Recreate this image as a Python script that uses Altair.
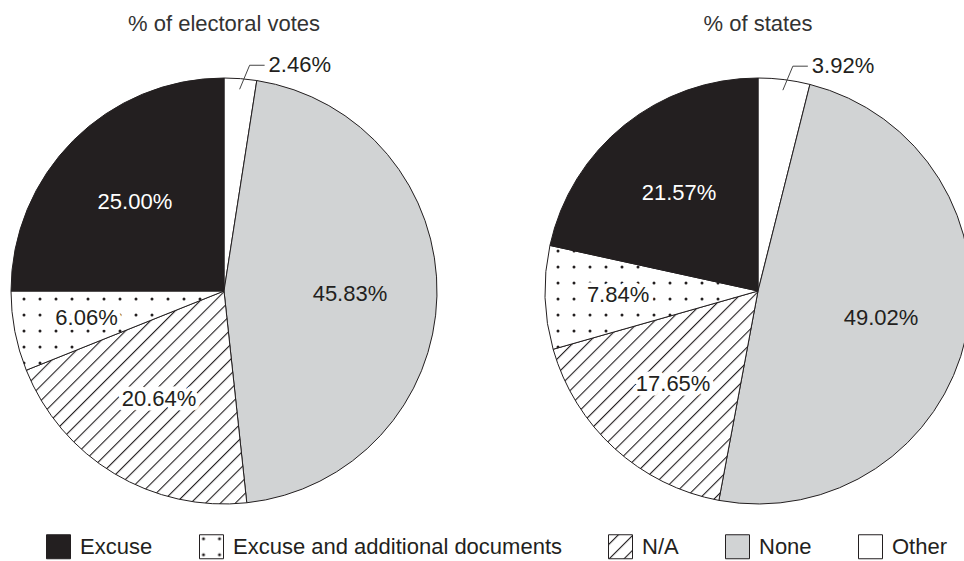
import jinja2
import pandas as pd
import altair as alt

# Share of each voter-ID requirement, clockwise from 12 o'clock
panels = ["% of electoral votes", "% of states"]
categories = ["Other", "None", "N/A", "Excuse and additional documents", "Excuse"]
electoral_votes = [2.46, 45.83, 20.64, 6.06, 25.00]
states = [3.92, 49.02, 17.65, 7.84, 21.57]

legend_order = ["Excuse", "Excuse and additional documents", "N/A", "None", "Other"]
fills = ["#231f20", "url(#dots)", "url(#hatch)", "#d1d3d4", "#ffffff"]

rows = []
for p, (panel, values) in enumerate(zip(panels, [electoral_votes, states])):
    for i, (cat, v) in enumerate(zip(categories, values)):
        rows.append({"panel": panel, "pi": p, "category": cat, "ord": i, "value": v})
df = pd.DataFrame(rows)

R = 213          # pie radius
CY = 291         # vertical centre of both pies
INK = "#231f20"
FONT = "Liberation Sans"

base = (
    alt.Chart(df)
    .transform_window(cum="sum(value)", sort=[alt.SortField("ord")],
                      groupby=["panel"], frame=[None, 0])
    .transform_joinaggregate(total="sum(value)", groupby=["panel"])
    .transform_calculate(
        a0="(datum.cum - datum.value) / datum.total * 2 * PI",
        a1="datum.cum / datum.total * 2 * PI",
        mid="(datum.a0 + datum.a1) / 2",
        cx="224 + 534 * datum.pi",
        label="format(datum.value, '.2f') + '%'",
        lr="datum.category === 'Excuse and additional documents' ? 140 : 126",
    )
)

X = alt.X("cx:Q", scale=None, stack=None)

arcs = base.mark_arc(radius=R, stroke=INK, strokeWidth=1).encode(
    x=X,
    y=alt.value(CY),
    theta=alt.Theta("a0:Q", scale=None, stack=None),
    theta2="a1:Q",
    color=alt.Color(
        "category:N",
        scale=alt.Scale(domain=legend_order, range=fills),
        legend=alt.Legend(
            title=None, orient="none", legendX=46, legendY=534,
            direction="horizontal", symbolType="square", symbolSize=576,
            symbolStrokeColor=INK, symbolStrokeWidth=1,
            labelFont=FONT, labelFontSize=22, labelColor=INK,
            labelOffset=9, columnPadding=44, padding=0, labelLimit=0,
        ),
    ),
)

inner = base.transform_filter(alt.datum.category != "Other")

text_style = dict(font=FONT, fontSize=22, align="center", baseline="middle")

halo = inner.transform_filter(
    alt.FieldOneOfPredicate(field="category", oneOf=["N/A", "Excuse and additional documents"])
).mark_text(stroke="white", strokeWidth=9, strokeJoin="round", fill="white", **text_style).encode(
    x=X, y=alt.value(CY),
    theta=alt.Theta("mid:Q", scale=None, stack=None),
    radius=alt.Radius("lr:Q", scale=None),
    text="label:N",
)

labels = inner.mark_text(**text_style).encode(
    x=X, y=alt.value(CY),
    theta=alt.Theta("mid:Q", scale=None, stack=None),
    radius=alt.Radius("lr:Q", scale=None),
    text="label:N",
    color=alt.condition("datum.category === 'Excuse'", alt.value("white"), alt.value(INK)),
)

# Leader for the thin "Other" slice
leader = base.transform_filter(alt.datum.category == "Other").transform_calculate(
    sx=f"datum.cx + {0.95 * R} * sin(datum.mid)",
    sy=f"{CY} - {0.95 * R} * cos(datum.mid)",
    ex="datum.sx + 10",
    ey="datum.sy - 24",
    hx="datum.ex + 15",
)
lead1 = leader.mark_rule(color="#444444", strokeWidth=1).encode(
    x=alt.X("sx:Q", scale=None), y=alt.Y("sy:Q", scale=None), x2="ex:Q", y2="ey:Q"
)
lead2 = leader.mark_rule(color="#444444", strokeWidth=1).encode(
    x=alt.X("ex:Q", scale=None), y=alt.Y("ey:Q", scale=None), x2="hx:Q", y2="ey:Q"
)
other_label = leader.mark_text(font=FONT, fontSize=22, align="left", baseline="middle",
                               dx=4, color=INK).encode(
    x=alt.X("hx:Q", scale=None), y=alt.Y("ey:Q", scale=None), text="label:N"
)

titles = base.transform_filter(alt.datum.ord == 0).mark_text(
    font=FONT, fontSize=22, align="center", baseline="middle", color="#333333"
).encode(x=X, y=alt.value(24), text="panel:N")

chart = alt.layer(arcs, halo, labels, lead1, lead2, other_label, titles).properties(
    width=964, height=561, padding=0,
    autosize=alt.AutoSizeParams(type="none"),
    background="white",
).configure_view(stroke=None)

# Page template carrying the hatch and dot fills used by the slices
PAGE = jinja2.Template("""<!DOCTYPE html>
<html>
<head>
  <meta charset="utf-8">
  <style>
    body { margin: 0; }
    #{{ output_div }}.vega-embed { width: 100%; display: flex; }
    #{{ output_div }}.vega-embed details,
    #{{ output_div }}.vega-embed details summary { position: relative; }
  </style>
  <script type="text/javascript" src="{{ base_url }}/vega@{{ vega_version }}"></script>
  <script type="text/javascript" src="{{ base_url }}/vega-lite@{{ vegalite_version }}"></script>
  <script type="text/javascript" src="{{ base_url }}/vega-embed@{{ vegaembed_version }}"></script>
</head>
<body>
  <svg width="0" height="0" style="position:absolute;left:0;top:0" aria-hidden="true">
    <defs>
      <pattern id="hatch" patternUnits="userSpaceOnUse" width="10.5" height="10.5"
               patternTransform="rotate(45)">
        <rect width="10.5" height="10.5" fill="#ffffff"/>
        <rect x="0" y="0" width="1.1" height="10.5" fill="#231f20"/>
      </pattern>
      <pattern id="dots" patternUnits="userSpaceOnUse" width="16" height="16">
        <rect width="16" height="16" fill="#ffffff"/>
        <circle cx="8" cy="8" r="1.5" fill="#231f20"/>
      </pattern>
    </defs>
  </svg>
  <div id="{{ output_div }}"></div>
  <script type="text/javascript">
    vegaEmbed("#{{ output_div }}", {{ spec }}, {{ embed_options }}).catch(console.error);
  </script>
</body>
</html>
""")

chart.save("out.html", embed_options={"renderer": "svg", "actions": False}, template=PAGE)
